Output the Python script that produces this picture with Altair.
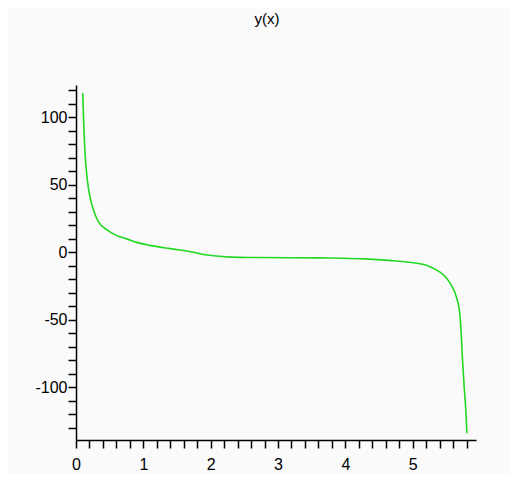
import altair as alt
import pandas as pd

xs = [0.10, 0.115, 0.13, 0.15, 0.17, 0.20, 0.25, 0.30, 0.35, 0.45, 0.60, 0.75, 0.90,
      1.10, 1.40, 1.70, 1.95, 2.30, 2.70, 3.20, 3.60, 3.95, 4.30, 4.65, 4.95, 5.25,
      5.40, 5.50, 5.57, 5.62, 5.655, 5.68, 5.70, 5.72, 5.74, 5.765, 5.79, 5.805]
ys = [118, 95, 77, 63, 53, 43, 33, 26, 21.5, 17, 12.6, 10, 7.4,
      5.2, 2.8, 0.5, -2, -3.5, -3.8, -4, -4.1, -4.3, -4.8, -5.9, -7.3, -10.4,
      -14.5, -19, -24, -29, -34, -39, -46, -60, -80, -100, -118, -134]

x_ticks = [round(k * 0.2, 1) for k in range(0, 30)]
y_ticks = list(range(-130, 121, 10))

df = pd.DataFrame({"x": xs, "y": ys})

label_expr = "abs(datum.value - round(datum.value)) < 1e-6 ? '' + round(datum.value) : ''"
label_expr_y = "datum.value % 50 == 0 ? '' + datum.value : ''"

chart = alt.Chart(df).mark_line(color="#22d822", strokeWidth=1.6, interpolate="monotone").encode(
    x=alt.X("x:Q", scale=alt.Scale(domain=[0, 5.94], nice=False, zero=False),
            axis=alt.Axis(values=x_ticks, labelExpr=label_expr, title=None, grid=False,
                          tickSize=8, labelPadding=8, labelFontSize=16,
                          labelFont="Liberation Sans", labelColor="#000000",
                          domainColor="#000000", tickColor="#000000",
                          domainWidth=1.5, tickWidth=1.5, labelFlush=False)),
    y=alt.Y("y:Q", scale=alt.Scale(domain=[-139, 124], nice=False, zero=False),
            axis=alt.Axis(values=y_ticks, labelExpr=label_expr_y, title=None, grid=False,
                          tickSize=8, labelPadding=1, labelFontSize=16,
                          labelFont="Liberation Sans", labelColor="#000000",
                          domainColor="#000000", tickColor="#000000",
                          domainWidth=1.5, tickWidth=1.5, labelFlush=False)),
).properties(
    width=400,
    height=355,
    title=alt.TitleParams("y(x)", font="Liberation Sans", fontSize=15, fontWeight="normal",
                          color="#000000", anchor="middle", dx=-9, offset=58),
    autosize=alt.AutoSizeParams(type="none"),
    padding={"left": 68, "top": 77, "right": 34, "bottom": 34},
    background="#fafafa",
).configure_view(stroke=None, fill="#fafafa")

chart.save("out.html", embed_options={"renderer": "svg", "actions": False})
